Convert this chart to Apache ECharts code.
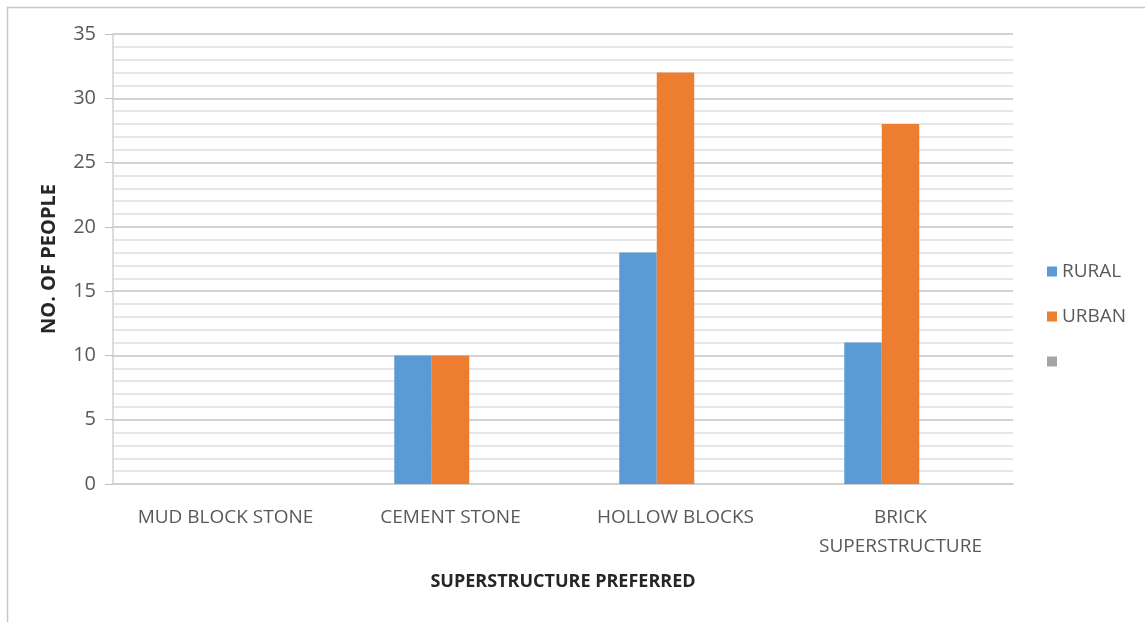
<!DOCTYPE html>
<html>
<head>
<meta charset="utf-8">
<script src="https://cdn.jsdelivr.net/npm/echarts@6/dist/echarts.min.js"></script>
<style>
  html, body { margin: 0; padding: 0; background: #fff; }
  #chart { width: 1145px; height: 622px; }
</style>
</head>
<body>
<div id="chart"></div>
<script>
// Preferred superstructure material, by respondent group
const categories = ['MUD BLOCK STONE', 'CEMENT STONE', 'HOLLOW BLOCKS', 'BRICK\nSUPERSTRUCTURE'];
const rural = [0, 10, 18, 11];
const urban = [0, 10, 32, 28];
const unnamed = [null, null, null, null];
const yTicks = { min: 0, max: 35, interval: 5 };

const FONT = '"Open Sans", "Noto Sans", sans-serif';
const TEXT = '#595959';

const chart = echarts.init(document.getElementById('chart'), null, { renderer: 'canvas' });

chart.setOption({
  animation: false,
  backgroundColor: '#ffffff',
  graphic: [{
    type: 'rect',
    shape: { x: 7.5, y: 7.5, width: 1200, height: 700 },
    style: { fill: 'none', stroke: '#c8c8c8', lineWidth: 1.5 },
    silent: true
  }],
  grid: { left: 113, right: 132, top: 34, bottom: 138 },
  legend: {
    orient: 'vertical',
    left: 1042,
    top: 257,
    itemWidth: 10,
    itemHeight: 10,
    itemGap: 26,
    icon: 'rect',
    textStyle: { fontFamily: FONT, fontSize: 19, color: TEXT },
    data: ['RURAL', 'URBAN', ' ']
  },
  xAxis: {
    type: 'category',
    data: categories,
    name: 'SUPERSTRUCTURE PREFERRED',
    nameLocation: 'middle',
    nameGap: 89,
    nameTextStyle: { fontFamily: FONT, fontSize: 18, fontWeight: 'bold', color: '#262626' },
    axisLine: { lineStyle: { color: '#d0d0d0', width: 1.5 } },
    axisTick: { show: false },
    axisLabel: {
      fontFamily: FONT, fontSize: 19, color: TEXT, margin: 19, lineHeight: 29,
      interval: 0
    },
    splitLine: { show: false }
  },
  yAxis: {
    type: 'value',
    min: yTicks.min,
    max: yTicks.max,
    interval: yTicks.interval,
    name: 'NO. OF PEOPLE',
    nameLocation: 'middle',
    nameGap: 54,
    nameRotate: 90,
    nameTextStyle: { fontFamily: FONT, fontSize: 20, fontWeight: 'bold', color: '#262626' },
    axisLine: { show: true, lineStyle: { color: '#d0d0d0', width: 1.5 } },
    axisTick: { show: true, length: 8, lineStyle: { color: '#c0c0c0' } },
    axisLabel: { fontFamily: FONT, fontSize: 20, color: TEXT, margin: 17 },
    splitLine: { show: true, lineStyle: { color: '#c4c4c4', width: 1.5 } },
    minorTick: { show: false, splitNumber: 5 },
    minorSplitLine: { show: true, lineStyle: { color: '#dedede', width: 1.5 } }
  },
  series: [
    {
      name: 'RURAL', type: 'bar', data: rural,
      itemStyle: { color: '#5B9BD5' },
      barGap: '0%', barCategoryGap: '50%'
    },
    {
      name: 'URBAN', type: 'bar', data: urban,
      itemStyle: { color: '#ED7D31' },
      barGap: '0%', barCategoryGap: '50%'
    },
    {
      name: ' ', type: 'bar', data: unnamed,
      itemStyle: { color: '#A5A5A5' },
      barGap: '0%', barCategoryGap: '50%'
    }
  ]
});
</script>
</body>
</html>
